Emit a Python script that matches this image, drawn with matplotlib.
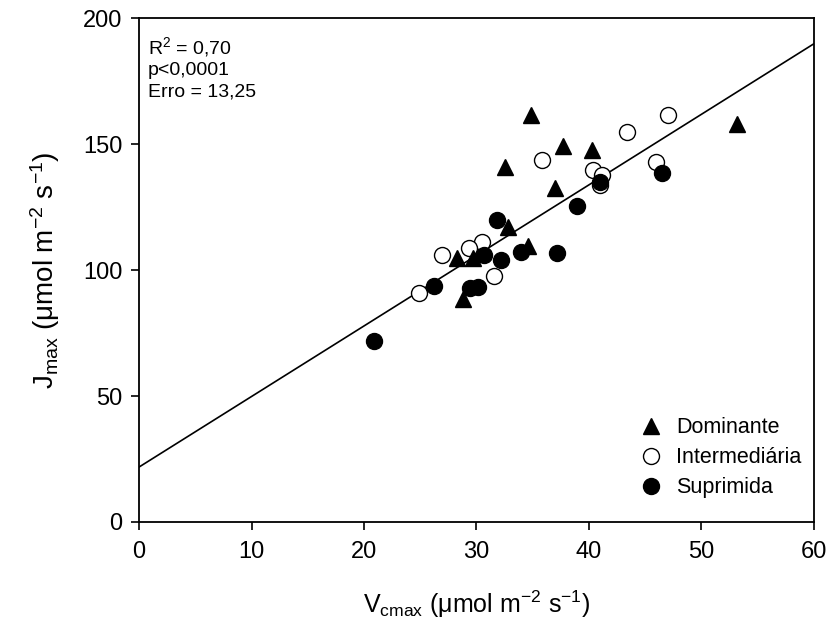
import matplotlib
matplotlib.use("Agg")
import matplotlib.pyplot as plt
import numpy as np

plt.rcParams['font.family'] = ['Liberation Sans', 'DejaVu Sans']
plt.rcParams['mathtext.fontset'] = 'custom'
plt.rcParams['mathtext.rm'] = 'Liberation Sans'
plt.rcParams['mathtext.it'] = 'Liberation Sans'

# Dominante (triangles)
dom_x = [34.85, 37.7, 40.3, 32.5, 37.0, 53.2, 32.8, 34.6, 28.3, 29.7, 28.8]
dom_y = [161.4, 149.1, 147.5, 140.8, 132.4, 157.9, 116.9, 109.7, 104.6, 104.6, 88.3]
# Intermediaria (open circles)
int_x = [47.0, 43.4, 35.8, 46.0, 40.4, 41.2, 41.0, 30.5, 29.3, 26.9, 31.6, 24.9]
int_y = [161.4, 154.7, 143.5, 142.7, 139.6, 137.6, 133.6, 111.3, 108.9, 105.8, 97.8, 90.7]
# Suprimida (filled circles)
sup_x = [46.5, 41.0, 38.9, 31.8, 30.7, 32.2, 34.0, 37.2, 29.4, 30.1, 26.2, 20.9]
sup_y = [138.4, 134.8, 125.6, 119.7, 105.8, 103.8, 107.0, 106.6, 93.0, 93.4, 93.8, 72.0]

# regression line
intercept = 21.8
slope = 2.80

fig = plt.figure(figsize=(8.31, 6.39), dpi=100)
ax = fig.add_axes([0.1673, 0.1831, 0.8122, 0.7887])

xl = np.array([0, 60])
ax.plot(xl, intercept + slope * xl, color='black', lw=1.2, zorder=1)

ax.plot(int_x, int_y, 'o', ms=11.5, mfc='white', mec='black', mew=1.0,
        ls='none', label='Intermediária', zorder=2)
ax.plot(sup_x, sup_y, 'o', ms=11.5, mfc='black', mec='black',
        ls='none', label='Suprimida', zorder=3)
ax.plot(dom_x, dom_y, '^', ms=12, mfc='black', mec='black',
        ls='none', label='Dominante', zorder=4)

ax.set_xlim(0, 60)
ax.set_ylim(0, 200)
ax.set_xticks(range(0, 61, 10))
ax.set_yticks(range(0, 201, 50))
ax.tick_params(direction='out', length=6, width=1.2, labelsize=17)
ax.tick_params(axis='y', pad=6)
ax.tick_params(axis='x', pad=8)
for s in ax.spines.values():
    s.set_linewidth(1.3)

ax.set_xlabel(r'V$_{\mathregular{cmax}}$ ($\mathregular{\mu}$mol m$^{\mathregular{-2}}$ s$^{\mathregular{-1}}$)',
              fontsize=18, labelpad=18)
ax.set_ylabel(r'J$_{\mathregular{max}}$ ($\mathregular{\mu}$mol m$^{\mathregular{-2}}$ s$^{\mathregular{-1}}$)',
              fontsize=20, labelpad=15)

ax.text(0.013, 0.967, 'R$^{\\mathregular{2}}$ = 0,70\np<0,0001\nErro = 13,25',
        transform=ax.transAxes, ha='left', va='top', fontsize=14, linespacing=1.3)

h, l = ax.get_legend_handles_labels()
order = [2, 0, 1]
ax.legend([h[i] for i in order], [l[i] for i in order], loc='lower right',
          bbox_to_anchor=(0.981, 0.047), frameon=False, fontsize=15.5,
          handletextpad=0.4, labelspacing=0.42, borderaxespad=0,
          borderpad=0, handlelength=1.5)

fig.savefig('out.png', dpi=100)
